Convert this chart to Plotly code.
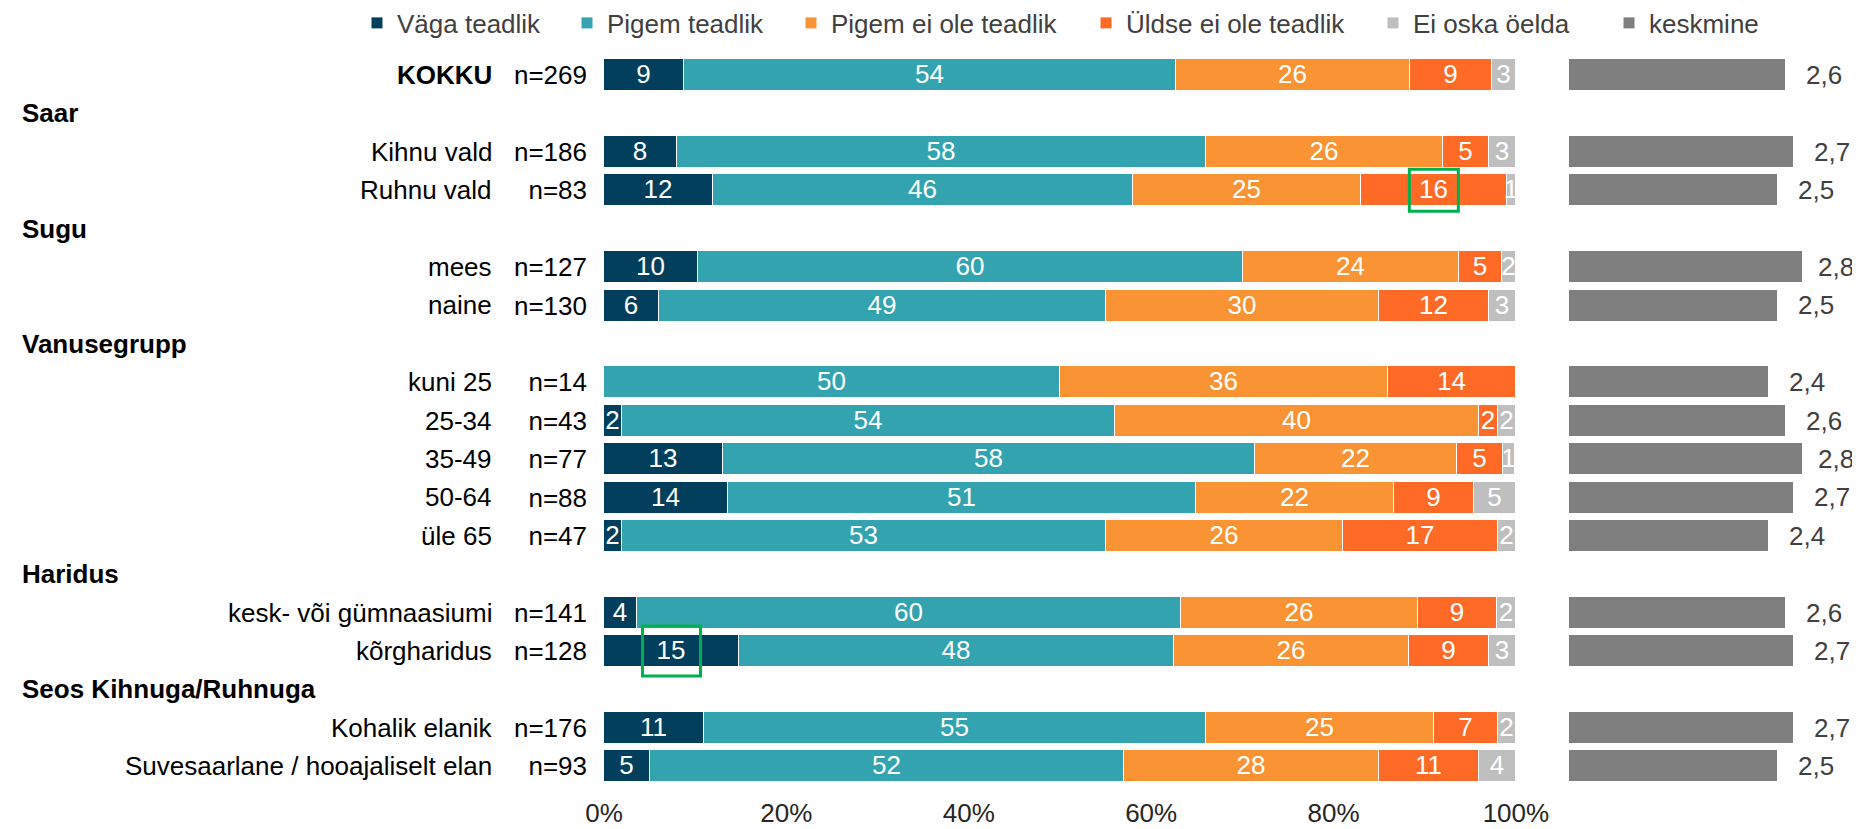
import plotly.graph_objects as go

# The page body has an 8px default margin; the figure is sized so it fits the window.
OFF = 8
W, H = 1860 - OFF, 829 - OFF

# ---------------- data ----------------
categories = ["KOKKU", "Kihnu vald", "Ruhnu vald", "mees", "naine", "kuni 25", "25-34",
              "35-49", "50-64", "üle 65", "kesk- või gümnaasiumi", "kõrgharidus",
              "Kohalik elanik", "Suvesaarlane / hooajaliselt elan"]
groups = [None, "Saar", "Saar", "Sugu", "Sugu", "Vanusegrupp", "Vanusegrupp",
          "Vanusegrupp", "Vanusegrupp", "Vanusegrupp", "Haridus", "Haridus",
          "Seos Kihnuga/Ruhnuga", "Seos Kihnuga/Ruhnuga"]
n_sizes = [269, 186, 83, 127, 130, 14, 43, 77, 88, 47, 141, 128, 176, 93]

vaga = [8.8, 8, 12, 10.3, 6, 0, 2, 13.0, 13.6, 2, 3.6, 14.8, 11, 5]
pigem = [53.9, 58, 46, 59.8, 49, 50, 54, 58.4, 51.3, 53, 59.7, 47.7, 55, 52]
pigem_ei = [25.7, 26, 25, 23.7, 30, 36, 40, 22.1, 21.7, 26, 26.0, 25.8, 25, 28]
uldse = [9.0, 5, 16, 4.7, 12, 14, 2, 5.1, 8.8, 17, 8.6, 8.8, 7, 11]
ei_oska = [2.6, 3, 1, 1.5, 3, 0, 2, 1.3, 4.6, 2, 2.1, 2.9, 2, 4]
keskmine = [2.6, 2.7, 2.5, 2.8, 2.5, 2.4, 2.6, 2.8, 2.7, 2.4, 2.6, 2.7, 2.7, 2.5]

series_names = ["Väga teadlik", "Pigem teadlik", "Pigem ei ole teadlik",
                "Üldse ei ole teadlik", "Ei oska öelda"]
series_values = [vaga, pigem, pigem_ei, uldse, ei_oska]
series_colors = ["#023F5C", "#33A4AF", "#FA9334", "#FF6A27", "#BFBFBF"]
mean_color = "#7F7F7F"

x_ticks = [0, 20, 40, 60, 80, 100]

# highlighted labels (row, series index, box width px, box height px)
highlights = [("Ruhnu vald", 3, 49, 42), ("kõrgharidus", 0, 58, 50)]

# ---------------- layout helpers ----------------
FONT = "Liberation Sans, Arial, sans-serif"
FS = 26


def fx(px):
    return (px - OFF) / W


def fy(py):
    return 1 - (py - OFF) / H


# assign slots (row positions), inserting group headings
row_slot, head_slot = [], []
prev = None
slot = 0
for g in groups:
    if g is not None and g != prev:
        head_slot.append((g, slot))
        slot += 1
    row_slot.append(slot)
    slot += 1
    prev = g
n_slots = slot

pitch = 38.4
top_center = 75
y_top = top_center - pitch / 2
y_bot = top_center + (n_slots - 1) * pitch + pitch / 2

x0_px, x1_px = 604, 1516
m0_px = 1569
m_scale = 83.4  # px per unit
m_max = (1860 - m0_px) / m_scale
# mean labels: right edge sits a fixed distance after the bar end,
# but is kept inside the chart area (like the original)
m_label_offset = 58 / m_scale
m_label_limit = (1856 - m0_px) / m_scale

fig = go.Figure()

legend_sq = [373, 583, 807, 1102, 1389, 1625]
legend_names = ["legend", "legend2", "legend3", "legend4", "legend5", "legend6"]

for i, (name, vals, col) in enumerate(zip(series_names, series_values, series_colors)):
    fig.add_trace(go.Bar(
        x=vals, y=row_slot, orientation="h", name=name,
        marker=dict(color=col, line=dict(color="white", width=1)),
        width=0.83,
        text=[str(round(v)) if v > 0 else "" for v in vals],
        textposition="inside", insidetextanchor="middle", textangle=0,
        constraintext="none",
        insidetextfont=dict(color="white", size=FS, family=FONT),
        hoverinfo="skip", cliponaxis=False,
        legend=legend_names[i], xaxis="x", yaxis="y",
    ))

fig.add_trace(go.Bar(
    x=keskmine, y=row_slot, orientation="h", name="keskmine",
    marker=dict(color=mean_color, line=dict(color="white", width=1)),
    width=0.83, hoverinfo="skip", cliponaxis=False,
    legend=legend_names[5], xaxis="x2", yaxis="y",
))

annotations = []
# category labels
for cat, s in zip(categories, row_slot):
    txt = f"<b>{cat}</b>" if cat == "KOKKU" else cat
    annotations.append(dict(x=fx(494), xref="paper", y=s, yref="y", text=txt,
                            xanchor="right", yanchor="middle", showarrow=False,
                            font=dict(size=FS, color="black", family=FONT)))
# headings
for g, s in head_slot:
    annotations.append(dict(x=fx(20), xref="paper", y=s, yref="y", text=f"<b>{g}</b>",
                            xanchor="left", yanchor="middle", showarrow=False,
                            font=dict(size=FS, color="black", family=FONT)))
# mean labels
for v, s in zip(keskmine, row_slot):
    annotations.append(dict(x=min(v + m_label_offset, m_label_limit), xref="x2", y=s,
                            yref="y", text=f"{v:.1f}".replace(".", ","),
                            xanchor="right", yanchor="middle", showarrow=False,
                            font=dict(size=FS, color="#404040", family=FONT)))

shapes = []
for cat, si, wpx, hpx in highlights:
    r = categories.index(cat)
    start = sum(series_values[k][r] for k in range(si))
    cx = start + series_values[si][r] / 2
    shapes.append(dict(type="rect", xref="x", yref="y",
                       xsizemode="pixel", ysizemode="pixel",
                       xanchor=cx, yanchor=row_slot[r],
                       x0=-wpx / 2, x1=wpx / 2, y0=-hpx / 2, y1=hpx / 2,
                       line=dict(color="#00B050", width=3), layer="above"))

layout = dict(
    width=W, height=H,
    margin=dict(l=0, r=0, t=0, b=0, autoexpand=False),
    paper_bgcolor="white", plot_bgcolor="white",
    barmode="stack", bargap=0,
    showlegend=True,
    font=dict(family=FONT, size=FS, color="#262626"),
    xaxis=dict(domain=[fx(x0_px), fx(x1_px)], range=[0, 100.01], tickvals=x_ticks,
               ticktext=[f"{t}%" for t in x_ticks], showgrid=False, zeroline=False,
               showline=False, ticks="", anchor="y", ticklabelstandoff=10,
               tickfont=dict(size=FS, color="#262626", family=FONT), automargin=False),
    xaxis2=dict(domain=[fx(m0_px), 1.0], range=[0, m_max],
                showgrid=False, zeroline=False, showline=False, showticklabels=False,
                ticks="", anchor="y"),
    yaxis=dict(domain=[fy(y_bot), fy(y_top)], range=[n_slots - 0.5, -0.5],
               tickvals=row_slot, ticktext=[f"n={n}" for n in n_sizes],
               showgrid=False, zeroline=False, showline=False, ticks="",
               ticklabelstandoff=16, automargin=False,
               tickfont=dict(size=FS, color="black", family=FONT)),
    annotations=annotations,
    shapes=shapes,
)
for ln, sq in zip(legend_names, legend_sq):
    layout[ln] = dict(x=fx(sq - 16), y=fy(23), xanchor="left", yanchor="middle",
                      orientation="h", bgcolor="rgba(0,0,0,0)", borderwidth=0,
                      font=dict(size=FS, color="#404040", family=FONT))
fig.update_layout(**layout)

fig.write_html("out.html")
